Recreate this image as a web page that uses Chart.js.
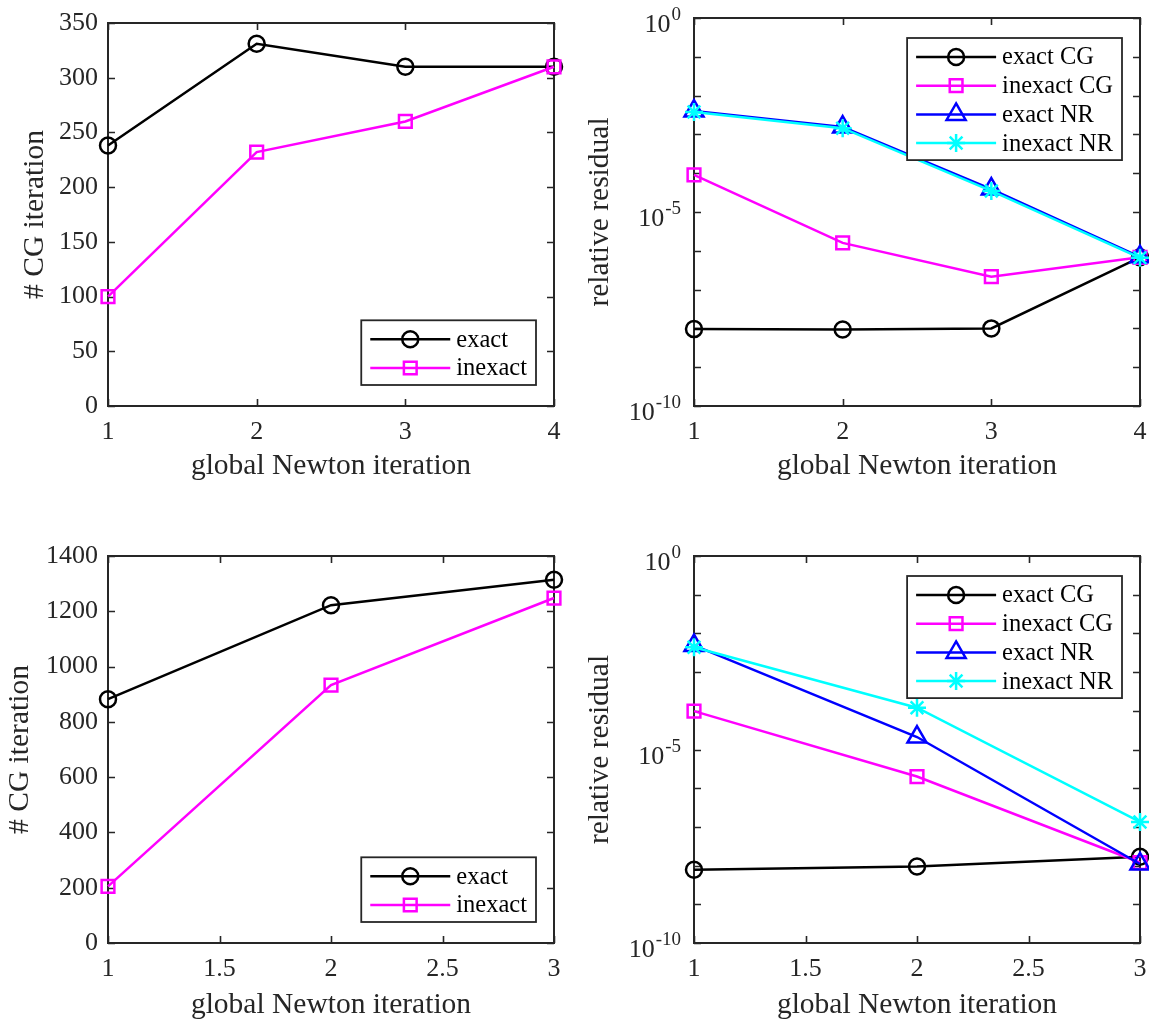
<!DOCTYPE html>
<html>
<head>
<meta charset="utf-8">
<title>CG / Newton iterations</title>
<script src="https://cdn.jsdelivr.net/npm/chart.js@4.4.1/dist/chart.umd.min.js"></script>
<style>
  html, body { margin: 0; padding: 0; background: #fff; }
  #wrap { position: relative; width: 1149px; height: 1025px; }
  #wrap canvas { position: absolute; }
</style>
</head>
<body>
<div id="wrap">
  <canvas id="cgTop" width="575" height="512" style="left:0;top:0"></canvas>
  <canvas id="resTop" width="574" height="512" style="left:575px;top:0"></canvas>
  <canvas id="cgBot" width="575" height="513" style="left:0;top:512px"></canvas>
  <canvas id="resBot" width="574" height="513" style="left:575px;top:512px"></canvas>
</div>
<script>
// global Newton steps
var newtonTop = [1, 2, 3, 4];
var newtonBot = [1, 2, 3];

// number of CG iterations per Newton step
var cgExactTop = [238, 331, 310, 310];
var cgInexactTop = [100, 232, 260, 310];
var cgExactBot = [882, 1222, 1314];
var cgInexactBot = [205, 933, 1248];

// relative residuals, first problem
var resExactCGTop = [9.6e-9, 9.4e-9, 1.0e-8, 6.8e-7];
var resInexactCGTop = [9.1e-5, 1.6e-6, 2.15e-7, 6.8e-7];
var resExactNRTop = [4.0e-3, 1.55e-3, 3.9e-5, 7.0e-7];
var resInexactNRTop = [3.8e-3, 1.45e-3, 3.5e-5, 6.6e-7];

// relative residuals, second problem
var resExactCGBot = [7.8e-9, 9.5e-9, 1.7e-8];
var resInexactCGBot = [9.8e-5, 2.0e-6, 1.2e-8];
var resExactNRBot = [4.9e-3, 2.1e-5, 1.1e-8];
var resInexactNRBot = [4.4e-3, 1.2e-4, 1.34e-7];

var cgLabels = ['exact', 'inexact'];
var resLabels = ['exact CG', 'inexact CG', 'exact NR', 'inexact NR'];

// tick positions
var xTicksTop = [1, 2, 3, 4];
var xTicksBot = [1, 1.5, 2, 2.5, 3];
var cgTicksTop = [0, 50, 100, 150, 200, 250, 300, 350];
var cgTicksBot = [0, 200, 400, 600, 800, 1000, 1200, 1400];
var decadeExps = [0, -1, -2, -3, -4, -5, -6, -7, -8, -9, -10];
var labelExps = [0, -5, -10];

var FONT = "'Liberation Serif', 'Times New Roman', serif";
var AXIS = '#262626';
var TICK = 7;

Chart.defaults.font.family = FONT;
Chart.defaults.color = AXIS;

var styles = [
  { color: '#000000', marker: 'circle', r: 8 },
  { color: '#ff00ff', marker: 'rect', r: 9 },
  { color: '#0000ff', marker: 'triangle', r: 11 },
  { color: '#00ffff', marker: 'star', r: 9 }
];

function pts(xs, ys) {
  return xs.map(function (x, i) { return { x: x, y: ys[i] }; });
}

function series(label, xs, ys, k) {
  var s = styles[k];
  return {
    label: label,
    data: pts(xs, ys),
    borderColor: s.color,
    borderWidth: 2.5,
    pointStyle: s.marker,
    pointRadius: s.r,
    pointHoverRadius: s.r,
    pointBorderColor: s.color,
    pointBackgroundColor: 'rgba(0,0,0,0)',
    pointBorderWidth: 2.5,
    tension: 0,
    clip: false,
    order: 10 - k
  };
}

function marker(ctx, style, r, x, y) {
  if (Chart.helpers && Chart.helpers.drawPoint) {
    Chart.helpers.drawPoint(ctx, { pointStyle: style, radius: r, borderWidth: 2.5, rotation: 0 }, x, y);
    return;
  }
  ctx.beginPath();
  ctx.arc(x, y, r, 0, Math.PI * 2);
  ctx.stroke();
}

// box around the axes, inward ticks on all four sides, log labels and legend
var boxAxes = {
  id: 'boxAxes',
  beforeDatasetsDraw: function (chart, args, opts) {
    var a = chart.chartArea, ctx = chart.ctx;
    var xs = chart.scales.x, ys = chart.scales.y;
    ctx.save();
    ctx.strokeStyle = AXIS;
    ctx.lineWidth = 1.6;
    ctx.beginPath();
    xs.ticks.forEach(function (t) {
      var px = Math.round(xs.getPixelForValue(t.value)) + 0.5;
      ctx.moveTo(px, a.bottom); ctx.lineTo(px, a.bottom - TICK);
      ctx.moveTo(px, a.top); ctx.lineTo(px, a.top + TICK);
    });
    ys.ticks.forEach(function (t) {
      var py = Math.round(ys.getPixelForValue(t.value)) + 0.5;
      ctx.moveTo(a.left, py); ctx.lineTo(a.left + TICK, py);
      ctx.moveTo(a.right, py); ctx.lineTo(a.right - TICK, py);
    });
    ctx.stroke();
    ctx.lineWidth = 2;
    ctx.strokeRect(a.left, a.top, a.right - a.left, a.bottom - a.top);

    if (opts.log) {
      ctx.fillStyle = AXIS;
      ctx.textAlign = 'right';
      ctx.textBaseline = 'alphabetic';
      labelExps.forEach(function (e) {
        var y = ys.getPixelForValue(Math.pow(10, e));
        var right = a.left - 13;
        var sup = String(e);
        ctx.font = '19px ' + FONT;
        var sw = ctx.measureText(sup).width;
        ctx.fillText(sup, right, y + 2);
        ctx.font = '26px ' + FONT;
        ctx.fillText('10', right - sw - 1, y + 14);
      });
    }
    ctx.restore();
  },
  afterDatasetsDraw: function (chart, args, opts) {
    var a = chart.chartArea, ctx = chart.ctx, ds = chart.data.datasets;
    ctx.save();
    ctx.font = '24.5px ' + FONT;
    var tw = 0;
    ds.forEach(function (d) { tw = Math.max(tw, ctx.measureText(d.label).width); });
    var rowH = 28.7;
    var w = 95 + tw + 9;
    var h = 19 + (ds.length - 1) * rowH + 17;
    var x0 = a.right - 18 - w;
    var y0 = opts.corner === 'tr' ? a.top + 20 : a.bottom - 21 - h;
    ctx.fillStyle = '#ffffff';
    ctx.fillRect(x0, y0, w, h);
    ctx.strokeStyle = AXIS;
    ctx.lineWidth = 1.8;
    ctx.strokeRect(x0, y0, w, h);
    ds.forEach(function (d, i) {
      var y = y0 + 19 + i * rowH;
      ctx.strokeStyle = d.borderColor;
      ctx.lineWidth = 2.5;
      ctx.beginPath();
      ctx.moveTo(x0 + 9, y);
      ctx.lineTo(x0 + 89, y);
      ctx.stroke();
      ctx.fillStyle = 'rgba(0,0,0,0)';
      marker(ctx, d.pointStyle, d.pointRadius, x0 + 49, y);
      ctx.fillStyle = '#000000';
      ctx.font = '24.5px ' + FONT;
      ctx.textAlign = 'left';
      ctx.textBaseline = 'middle';
      ctx.fillText(d.label, x0 + 95, y + 1);
    });
    ctx.restore();
  }
};

function makeChart(id, datasets, cfg) {
  return new Chart(document.getElementById(id), {
    type: 'line',
    data: { datasets: datasets },
    plugins: [boxAxes],
    options: {
      responsive: false,
      animation: false,
      events: [],
      layout: {
        autoPadding: false,
        padding: { left: 0, top: cfg.top, right: cfg.right, bottom: 0 }
      },
      plugins: {
        legend: { display: false },
        tooltip: { enabled: false },
        boxAxes: { log: cfg.log, corner: cfg.corner }
      },
      scales: {
        x: {
          type: 'linear',
          position: 'bottom',
          min: cfg.xTicks[0],
          max: cfg.xTicks[cfg.xTicks.length - 1],
          afterBuildTicks: function (s) { s.ticks = cfg.xTicks.map(function (v) { return { value: v }; }); },
          afterFit: function (s) { s.height = cfg.xh; },
          grid: { display: false, drawTicks: false },
          border: { display: false },
          ticks: {
            // label centre sits lineHeight/2 below the axis
            padding: 0,
            autoSkip: false,
            maxRotation: 0,
            color: AXIS,
            font: { size: 26, lineHeight: 2 },
            callback: function (v) { return String(v); }
          },
          title: {
            display: true,
            text: 'global Newton iteration',
            color: AXIS,
            font: { size: 29.5, lineHeight: 1 },
            padding: { top: 0, bottom: cfg.xtb }
          }
        },
        y: {
          type: cfg.log ? 'logarithmic' : 'linear',
          position: 'left',
          min: cfg.yMin,
          max: cfg.yMax,
          afterBuildTicks: function (s) { s.ticks = cfg.yTicks.map(function (v) { return { value: v }; }); },
          afterFit: function (s) { s.width = cfg.yw; },
          grid: { display: false, drawTicks: false },
          border: { display: false },
          ticks: {
            display: !cfg.log,
            padding: 10,
            autoSkip: false,
            color: AXIS,
            font: { size: 26, lineHeight: 1 },
            callback: function (v) { return String(v); }
          },
          title: {
            display: true,
            text: cfg.yTitle,
            color: AXIS,
            font: { size: 29.5, lineHeight: 1 },
            padding: { top: cfg.ytt, bottom: 0 }
          }
        }
      }
    }
  });
}

var decades = decadeExps.map(function (e) { return Math.pow(10, e); });

makeChart('cgTop', [
  series(cgLabels[0], newtonTop, cgExactTop, 0),
  series(cgLabels[1], newtonTop, cgInexactTop, 1)
], {
  top: 18, right: 21, yw: 108, xh: 106, xtb: 30.75, ytt: 20.5,
  xTicks: xTicksTop, yTicks: cgTicksTop, yMin: 0, yMax: 350,
  yTitle: '# CG iteration', log: false, corner: 'br'
});

makeChart('resTop', [
  series(resLabels[0], newtonTop, resExactCGTop, 0),
  series(resLabels[1], newtonTop, resInexactCGTop, 1),
  series(resLabels[2], newtonTop, resExactNRTop, 2),
  series(resLabels[3], newtonTop, resInexactNRTop, 3)
], {
  top: 18, right: 9, yw: 119, xh: 106, xtb: 30.75, ytt: 10.75,
  xTicks: xTicksTop, yTicks: decades, yMin: 1e-10, yMax: 1,
  yTitle: 'relative residual', log: true, corner: 'tr'
});

makeChart('cgBot', [
  series(cgLabels[0], newtonBot, cgExactBot, 0),
  series(cgLabels[1], newtonBot, cgInexactBot, 1)
], {
  top: 44, right: 21, yw: 108, xh: 82, xtb: 5, ytt: 5.75,
  xTicks: xTicksBot, yTicks: cgTicksBot, yMin: 0, yMax: 1400,
  yTitle: '# CG iteration', log: false, corner: 'br'
});

makeChart('resBot', [
  series(resLabels[0], newtonBot, resExactCGBot, 0),
  series(resLabels[1], newtonBot, resInexactCGBot, 1),
  series(resLabels[2], newtonBot, resExactNRBot, 2),
  series(resLabels[3], newtonBot, resInexactNRBot, 3)
], {
  top: 44, right: 9, yw: 119, xh: 82, xtb: 5, ytt: 10.75,
  xTicks: xTicksBot, yTicks: decades, yMin: 1e-10, yMax: 1,
  yTitle: 'relative residual', log: true, corner: 'tr'
});
</script>
</body>
</html>
